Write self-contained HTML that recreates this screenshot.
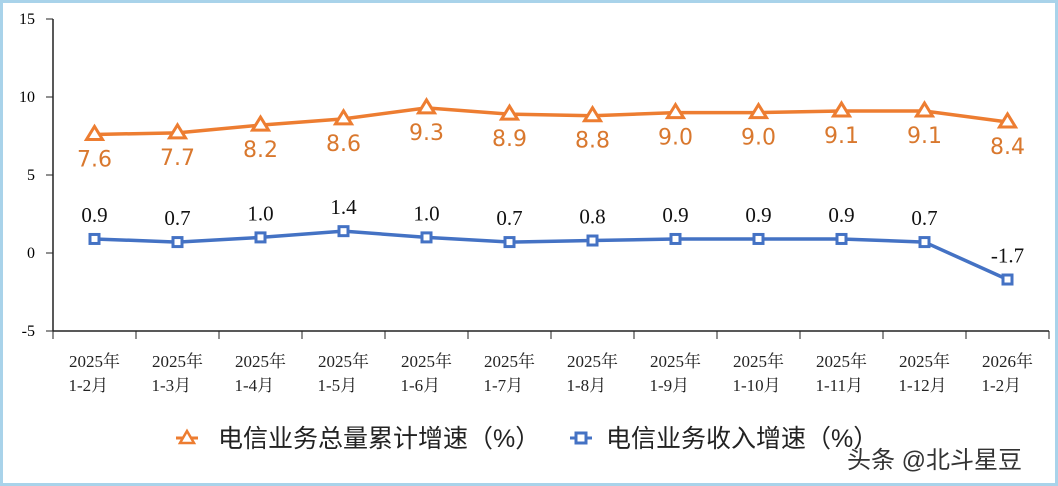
<!DOCTYPE html>
<html><head><meta charset="utf-8"><style>
html,body{margin:0;padding:0;background:#fff;}
#wrap{position:relative;width:1058px;height:486px;overflow:hidden;}
svg text{font-family:"Liberation Serif","Noto Serif CJK SC",serif;}
</style></head><body>
<div id="wrap">
<svg id="chart" width="1058" height="486" xmlns="http://www.w3.org/2000/svg">
<rect x="1.5" y="1.5" width="1055" height="483" fill="#fff" stroke="#a9d3ea" stroke-width="3"/>
<g id="axes"></g>
<g id="series"></g>
<g>
<g>
<line x1="176" y1="438" x2="198" y2="438" stroke="#ed7d31" stroke-width="3"/>
<polygon points="187,431 194,443 180,443" fill="#fff" stroke="#ed7d31" stroke-width="2.5"/>
<text x="218" y="447" font-size="25" fill="#222" style="font-family:'Liberation Sans','Noto Sans CJK SC',sans-serif">电信业务总量累计增速（%）</text>
</g>
<g>
<line x1="570" y1="438" x2="592" y2="438" stroke="#4472c4" stroke-width="3"/>
<rect x="576" y="433" width="10" height="10" fill="#fff" stroke="#4472c4" stroke-width="3"/>
<text x="606" y="447" font-size="25" fill="#222" style="font-family:'Liberation Sans','Noto Sans CJK SC',sans-serif">电信业务收入增速（%）</text>
</g>
</g>
<text x="847" y="468" font-size="24" fill="#333" style="font-family:'Liberation Sans','Noto Sans CJK SC',sans-serif">头条 @北斗星豆</text>
</svg>
</div>
<script>
const categories1 = ["2025年","2025年","2025年","2025年","2025年","2025年","2025年","2025年","2025年","2025年","2025年","2026年"];
const categories2 = ["1-2月","1-3月","1-4月","1-5月","1-6月","1-7月","1-8月","1-9月","1-10月","1-11月","1-12月","1-2月"];
const totalVolume = [7.6,7.7,8.2,8.6,9.3,8.9,8.8,9.0,9.0,9.1,9.1,8.4];
const revenue = [0.9,0.7,1.0,1.4,1.0,0.7,0.8,0.9,0.9,0.9,0.7,-1.7];
const yTicks = [-5,0,5,10,15];

const NS="http://www.w3.org/2000/svg";
const plotLeft=53, plotRight=1049, plotTop=19, plotBottom=331, yMin=-5, yMax=15;
const n=categories2.length, step=(plotRight-plotLeft)/n;
function xPos(i){return plotLeft+step*(i+0.5);}
function yPos(v){return plotBottom-(v-yMin)/(yMax-yMin)*(plotBottom-plotTop);}
function mk(tag,attrs,parent){const e=document.createElementNS(NS,tag);for(const k in attrs)e.setAttribute(k,attrs[k]);parent.appendChild(e);return e;}
const axesG=document.getElementById('axes'), seriesG=document.getElementById('series');

const ya=mk('line',{x1:plotLeft,y1:plotTop,x2:plotLeft,y2:plotBottom,stroke:'#222','stroke-width':1.5},axesG);


const xa=mk('line',{x1:plotLeft,y1:plotBottom,x2:plotRight,y2:plotBottom,stroke:'#222','stroke-width':1.5},axesG);


yTicks.forEach(v=>{
  const y=yPos(v);
  mk('line',{x1:plotLeft-7,y1:y,x2:plotLeft,y2:y,stroke:'#222','stroke-width':1},axesG);
  const t=mk('text',{x:plotLeft-18,y:y+5,'text-anchor':'end','font-size':16,fill:'#000'},axesG);
  t.textContent=v;
  
  
});
for(let i=0;i<=n;i++){
  const x=plotLeft+step*i;
  mk('line',{x1:x,y1:plotBottom,x2:x,y2:plotBottom+8,stroke:'#222','stroke-width':1},axesG);
}
categories2.forEach((c,i)=>{
  const t1=mk('text',{x:xPos(i),y:367,'text-anchor':'middle','font-size':17,fill:'#222'},axesG);
  t1.textContent=categories1[i];
  
  
  const t2=mk('text',{x:xPos(i)-26,y:391,'text-anchor':'start','font-size':17,fill:'#222'},axesG);
  t2.textContent=c;
  
  
});

function drawLine(vals,color,name){
  const pl=mk('polyline',{points:vals.map((v,i)=>xPos(i)+','+yPos(v)).join(' '),fill:'none',stroke:color,'stroke-width':3.5},seriesG);
  
  
}
drawLine(totalVolume,'#ed7d31','total-volume');
drawLine(revenue,'#4472c4','revenue');
totalVolume.forEach((v,i)=>{
  const x=xPos(i),y=yPos(v);
  const p=mk('polygon',{points:`${x},${y-8} ${x+8},${y+5} ${x-8},${y+5}`,fill:'#fff',stroke:'#ed7d31','stroke-width':3},seriesG);
  
  
  const t=mk('text',{x:x,y:y+32,'text-anchor':'middle','font-size':22,fill:'#d9782e',style:"font-family:'DejaVu Sans',sans-serif"},seriesG);
  t.textContent=v.toFixed(1);
  
  
});
revenue.forEach((v,i)=>{
  const x=xPos(i),y=yPos(v);
  const r=mk('rect',{x:x-4.5,y:y-4.5,width:9,height:9,fill:'#fff',stroke:'#4472c4','stroke-width':3},seriesG);
  
  
  const t=mk('text',{x:x,y:y-17,'text-anchor':'middle','font-size':21,fill:'#111'},seriesG);
  t.textContent=v.toFixed(1);
  
  
});
</script>
</body></html>
